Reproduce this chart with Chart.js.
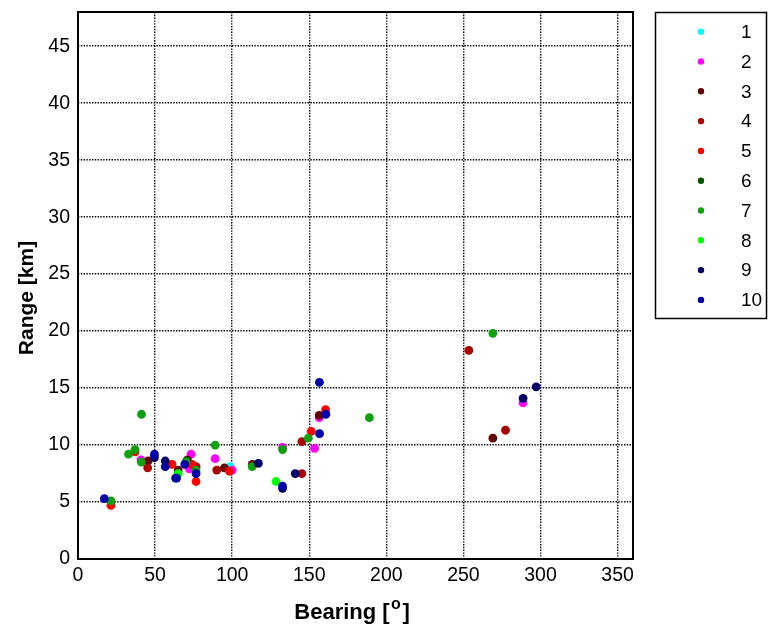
<!DOCTYPE html>
<html>
<head>
<meta charset="utf-8">
<script src="https://cdn.jsdelivr.net/npm/chart.js@4"></script>
<style>
  html, body { margin: 0; padding: 0; background: #fff; }
  #wrap { width: 768px; height: 630px; position: relative; }
</style>
</head>
<body>
<div id="wrap"><canvas id="chart" width="768" height="630"></canvas></div>
<script>
// series labels and colours
const seriesNames = ['1', '2', '3', '4', '5', '6', '7', '8', '9', '10'];
const seriesColors = ['#00ffff', '#ff00ff', '#660000', '#aa0000', '#ff0000',
                      '#005500', '#10a010', '#00ff00', '#000066', '#0000aa'];

// [bearing (deg), range (km)]
const s1 = [[98.7, 8.1]];
const s2 = [[40.9, 8.7], [73.4, 9.2], [72.3, 7.9], [89, 8.8], [100, 7.8], [132.7, 9.8],
            [153.5, 9.7], [156.5, 12.4], [288.7, 13.7]];
const s3 = [[45.5, 8.6], [65, 7.8], [71, 8.7], [95, 8.0], [113, 8.3], [156.5, 12.6], [269.1, 10.6]];
const s4 = [[45.2, 8.0], [76.6, 8.1], [90, 7.8], [145.2, 10.3], [145.2, 7.5], [253.5, 18.3], [277.3, 11.3]];
const s5 = [[21.4, 4.7], [37, 9.4], [61, 8.3], [74, 8.3], [76.6, 6.8], [98.3, 7.7], [151.3, 11.2], [160.6, 13.1]];
const s6 = [[70.5, 8.6]];
const s7 = [[21.4, 5.1], [41.2, 12.7], [32.8, 9.2], [37, 9.6], [41.1, 8.5], [70, 8.5], [76.6, 7.8],
            [89, 10.0], [113, 8.1], [132.7, 9.6], [149.4, 10.6], [189, 12.4], [269.1, 19.8]];
const s8 = [[65, 7.5], [128.5, 6.8]];
const s9 = [[49.6, 8.9], [56.6, 8.6], [63.3, 7.1], [117, 8.4], [140.9, 7.5], [132.7, 6.2],
            [297.2, 15.1], [288.7, 14.1]];
const s10 = [[17.1, 5.3], [49.6, 9.2], [56.6, 8.1], [64, 7.1], [69.3, 8.3], [76.6, 7.5],
             [132.7, 6.4], [156.6, 15.5], [156.7, 11.0], [160.8, 12.7]];
const seriesData = [s1, s2, s3, s4, s5, s6, s7, s8, s9, s10];

// axis ticks
const xTicks = [0, 50, 100, 150, 200, 250, 300, 350];
const yTicks = [0, 5, 10, 15, 20, 25, 30, 35, 40, 45];

const FONT = 'Arial, "Liberation Sans", sans-serif';

const datasets = seriesData.map((pts, i) => ({
    label: seriesNames[i],
    data: pts.map(p => ({ x: p[0], y: p[1] })),
    backgroundColor: seriesColors[i],
    borderColor: seriesColors[i],
    borderWidth: 0,
    pointRadius: 4.4,
    pointHoverRadius: 4.4,
    order: seriesData.length - i  // later series on top
}));

// frame, axis titles, legend box
const decor = {
    id: 'decor',
    afterDraw(chart) {
        const c = chart.ctx;
        const a = chart.chartArea;
        c.save();
        c.strokeStyle = '#000';
        c.lineWidth = 2;
        c.strokeRect(a.left, a.top, a.right - a.left, a.bottom - a.top);

        c.fillStyle = '#000';

        // y title
        c.save();
        c.translate(27, 298);
        c.rotate(-Math.PI / 2);
        c.font = 'bold 21px ' + FONT;
        c.textAlign = 'center';
        c.textBaseline = 'middle';
        c.fillText('Range [km]', 0, 0);
        c.restore();

        // x title: Bearing [°] with superscript o
        c.textBaseline = 'alphabetic';
        c.textAlign = 'left';
        const main1 = 'Bearing [', sup = 'o', main2 = ']';
        c.font = 'bold 22px ' + FONT;
        const w1 = c.measureText(main1).width, w3 = c.measureText(main2).width;
        c.font = 'bold 16px ' + FONT;
        const w2 = c.measureText(sup).width + 3;
        const total = w1 + w2 + w3;
        const x = 352 - total / 2;
        const base = 619;
        c.font = 'bold 22px ' + FONT;
        c.fillText(main1, x, base);
        c.font = 'bold 16px ' + FONT;
        c.fillText(sup, x + w1 + 1.5, base - 10);
        c.font = 'bold 22px ' + FONT;
        c.fillText(main2, x + w1 + w2, base);

        // legend
        c.lineWidth = 1.5;
        c.strokeRect(655.5, 12.5, 111, 306);
        c.font = '19px ' + FONT;
        c.textBaseline = 'middle';
        chart.data.datasets.forEach((ds, i) => {
            const y = 31.7 + i * 29.8;
            c.beginPath();
            c.arc(701, y, 3.2, 0, Math.PI * 2);
            c.fillStyle = ds.backgroundColor;
            c.fill();
            c.fillStyle = '#000';
            c.fillText(ds.label, 741, y + 1);
        });
        c.restore();
    }
};

new Chart(document.getElementById('chart'), {
    type: 'scatter',
    data: { datasets: datasets },
    options: {
        responsive: false,
        animation: false,
        layout: { padding: { top: 12, right: 135, left: 0, bottom: 0 } },
        plugins: {
            legend: { display: false },
            tooltip: { enabled: false }
        },
        scales: {
            x: {
                type: 'linear',
                min: 0,
                max: 360,
                afterBuildTicks: axis => { axis.ticks = xTicks.map(v => ({ value: v })); },
                afterFit: axis => {
                    axis.height = 71;
                    axis.paddingLeft = 0;
                    axis.paddingRight = 0;
                },
                grid: {
                    color: '#000',
                    lineWidth: 1.4,
                    drawTicks: false
                },
                border: { display: false, dash: [1.4, 1.4] },
                ticks: {
                    color: '#000',
                    font: { family: FONT, size: 19.5 },
                    padding: 5,
                    maxRotation: 0
                }
            },
            y: {
                type: 'linear',
                min: 0,
                max: 48,
                afterBuildTicks: axis => { axis.ticks = yTicks.map(v => ({ value: v })); },
                afterFit: axis => {
                    axis.width = 78;
                    axis.paddingTop = 0;
                    axis.paddingBottom = 0;
                },
                grid: {
                    color: '#000',
                    lineWidth: 1.4,
                    drawTicks: false
                },
                border: { display: false, dash: [1.4, 1.4] },
                ticks: {
                    color: '#000',
                    font: { family: FONT, size: 19.5 },
                    padding: 8
                }
            }
        }
    },
    plugins: [decor]
});
</script>
</body>
</html>
